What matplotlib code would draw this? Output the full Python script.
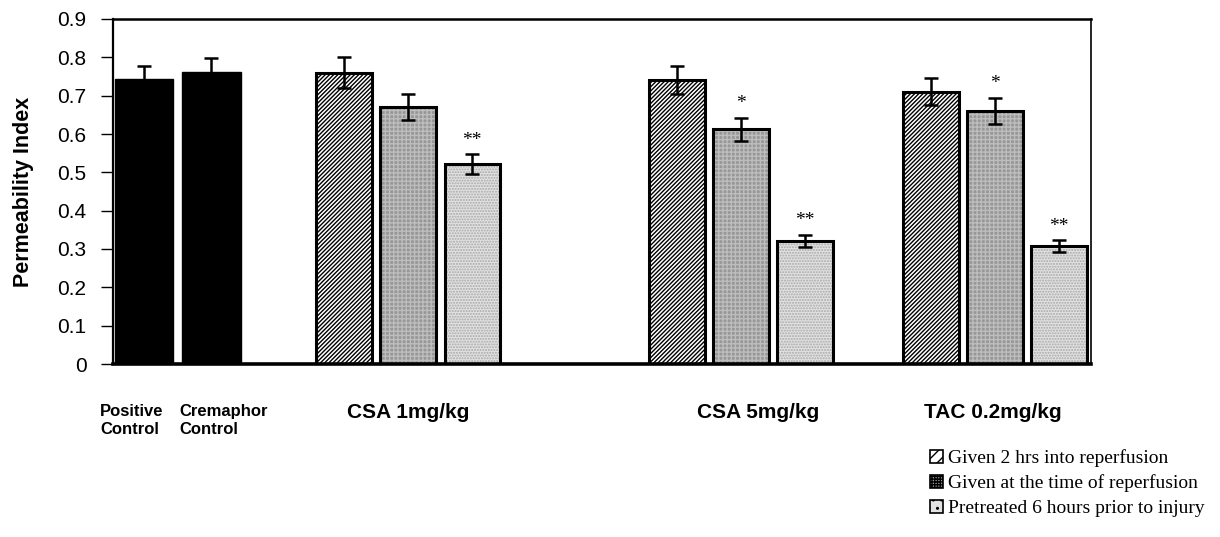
import matplotlib
matplotlib.use("Agg")
import matplotlib.pyplot as plt
from matplotlib.patches import Patch
import numpy as np

# ---------------- data ----------------
control_labels = ["Positive\nControl", "Cremaphor\nControl"]
control_values = [0.743, 0.763]
control_errors = [0.035, 0.036]

group_labels = ["CSA 1mg/kg", "CSA 5mg/kg", "TAC 0.2mg/kg"]
series_labels = ["Given 2 hrs into reperfusion",
                 "Given at the time of reperfusion",
                 "Pretreated 6 hours prior to injury"]
given_2hrs = [0.760, 0.741, 0.710]
given_2hrs_err = [0.040, 0.037, 0.035]
given_at_time = [0.671, 0.612, 0.660]
given_at_time_err = [0.034, 0.031, 0.034]
pretreated = [0.521, 0.321, 0.307]
pretreated_err = [0.026, 0.016, 0.016]
stars_at_time = ["", "*", "*"]
stars_pretreated = ["**", "**", "**"]

y_ticks = [0, 0.1, 0.2, 0.3, 0.4, 0.5, 0.6, 0.7, 0.8, 0.9]
y_tick_labels = ["0", "0.1", "0.2", "0.3", "0.4", "0.5", "0.6", "0.7", "0.8", "0.9"]

# ---------------- layout ----------------
W, H = 1220, 537
fig = plt.figure(figsize=(W / 100, H / 100), dpi=100)
ax = fig.add_axes([113 / W, (H - 364) / H, 978 / W, 345 / H])

control_pos = np.array([0.477, 1.515])
control_label_x = [-0.2, 1.015]
group_centers = np.array([4.54, 9.66, 13.57])
group_label_x = [4.54, 9.93, 13.54]
step = 0.985
bar_w = 0.85
ctrl_w = 0.9

styles = [
    dict(face="white", hatch="////////", hcolor="black", lhatch="///"),
    dict(face="#979797", hatch="++++", hcolor="#bdbdbd", lhatch="++++++"),
    dict(face="#e2e2e2", hatch="......", hcolor="#a8a8a8", lhatch=".."),
]
series_vals = [given_2hrs, given_at_time, pretreated]
series_errs = [given_2hrs_err, given_at_time_err, pretreated_err]

plt.rcParams["hatch.linewidth"] = 1.0

# control bars
ax.bar(control_pos, control_values, width=ctrl_w, color="black", edgecolor="black", zorder=2)
ax.errorbar(control_pos, control_values, yerr=control_errors, fmt="none",
            ecolor="black", elinewidth=1.8, capsize=5, capthick=1.8, zorder=3)

for k, (vals, errs, st) in enumerate(zip(series_vals, series_errs, styles)):
    pos = group_centers + (k - 1) * step
    ax.bar(pos, vals, width=bar_w, color=st["face"], edgecolor=st["hcolor"],
           hatch=st["hatch"], linewidth=0, zorder=2)
    ax.bar(pos, vals, width=bar_w, fill=False, edgecolor="black", linewidth=2.2, zorder=2.5)
    ax.errorbar(pos, vals, yerr=errs, fmt="none", ecolor="black",
                elinewidth=1.8, capsize=5, capthick=1.8, zorder=3)

# significance stars
for k, stars in [(1, stars_at_time), (2, stars_pretreated)]:
    pos = group_centers + (k - 1) * step
    for x, v, e, s in zip(pos, series_vals[k], series_errs[k], stars):
        if s:
            ax.annotate(s, (x, v + e), xytext=(0, 4), textcoords="offset points",
                        ha="center", va="bottom", fontsize=14, family="Liberation Serif")

ax.set_xlim(0, 978 / 65)
ax.set_ylim(0, 0.9)
ax.set_yticks(y_ticks)
ax.set_yticklabels(y_tick_labels, fontsize=15, family="Liberation Sans")
ax.tick_params(axis="y", length=9, width=1, pad=10)
ax.set_xticks([])
ax.set_ylabel("Permeability Index", fontsize=15.5, fontweight="bold",
              family="Liberation Sans", labelpad=17)

ax.spines["left"].set_linewidth(1.6)
ax.spines["bottom"].set_linewidth(2.6)
ax.spines["top"].set_linewidth(1.8)
ax.spines["right"].set_linewidth(1.2)

trans = ax.get_xaxis_transform()
for x, lab in zip(control_label_x, control_labels):
    ax.text(x, -0.165, lab, transform=trans, ha="left", va="center",
            multialignment="left", fontsize=12, fontweight="bold",
            family="Liberation Sans", linespacing=1.25)
for x, lab in zip(group_label_x, group_labels):
    ax.text(x, -0.142, lab, transform=trans, ha="center", va="center",
            fontsize=15, fontweight="bold", family="Liberation Sans")

handles = [Patch(facecolor=st["face"], edgecolor="black", hatch=st["lhatch"],
                 linewidth=1.2) for st in styles]
leg = fig.legend(handles, series_labels, loc="upper left",
                 bbox_to_anchor=(930 / W, (H - 449) / H), frameon=False,
                 prop={"family": "Liberation Serif", "size": 14},
                 handlelength=0.65, handleheight=0.65, handletextpad=0.3,
                 labelspacing=0.38, borderaxespad=0, borderpad=0)

fig.savefig("out.png", dpi=100)
